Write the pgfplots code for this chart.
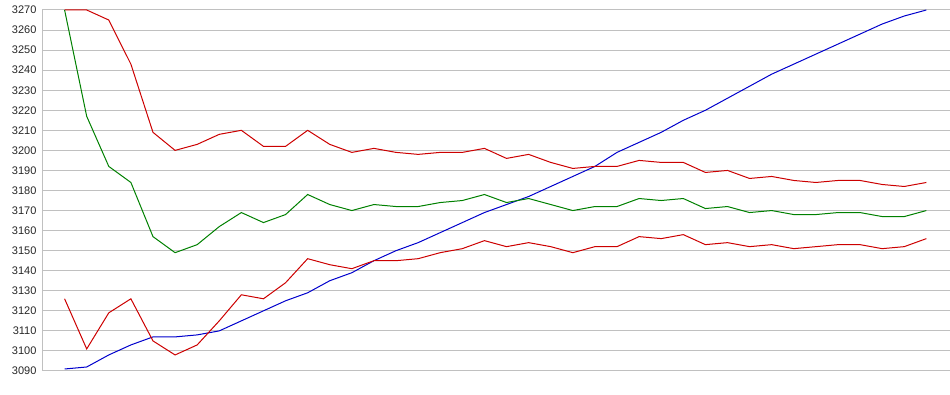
\documentclass[border=0pt]{standalone}
\usepackage{fontspec}
\setmainfont{Liberation Sans}
\usepackage{pgfplots}
\pgfplotsset{compat=1.18}
\definecolor{cred}{RGB}{204,0,0}
\definecolor{cgreen}{RGB}{0,128,0}
\definecolor{cblue}{RGB}{0,0,204}
\definecolor{cgrid}{RGB}{192,192,192}
\begin{document}
\begin{tikzpicture}
\useasboundingbox (0pt,0pt) rectangle (950pt,395pt);
\begin{axis}[
  at={(42.5pt,24pt)}, anchor=south west,
  scale only axis, width=907.5pt, height=361pt,
  xmin=-1, xmax=40.07, ymin=3090, ymax=3270,
  ytick distance=10,
  xtick=\empty,
  axis x line=none,
  axis y line*=left,
  y axis line style={-, draw=cgrid, line width=1pt},
  ymajorgrids, grid style={cgrid, line width=1pt},
  ytick style={draw=none},
  /pgf/number format/assume math mode=true,
  /pgf/number format/1000 sep={},
  yticklabel style={font=\fontsize{11}{13}\selectfont, xshift=-2.5pt, text=black!85},
  clip=false,
]
\addplot[cblue, line width=1pt] coordinates {
(0,3091)(1,3092)(2,3098)(3,3103)(4,3107)(5,3107)(6,3108)(7,3110)(8,3115)(9,3120)
(10,3125)(11,3129)(12,3135)(13,3139)(14,3145)(15,3150)(16,3154)(17,3159)(18,3164)(19,3169)
(20,3173)(21,3177)(22,3182)(23,3187)(24,3192)(25,3199)(26,3204)(27,3209)(28,3215)(29,3220)
(30,3226)(31,3232)(32,3238)(33,3243)(34,3248)(35,3253)(36,3258)(37,3263)(38,3267)(39,3270)};
\addplot[cred, line width=1pt] coordinates {
(0,3270)(1,3270)(2,3265)(3,3243)(4,3209)(5,3200)(6,3203)(7,3208)(8,3210)(9,3202)
(10,3202)(11,3210)(12,3203)(13,3199)(14,3201)(15,3199)(16,3198)(17,3199)(18,3199)(19,3201)
(20,3196)(21,3198)(22,3194)(23,3191)(24,3192)(25,3192)(26,3195)(27,3194)(28,3194)(29,3189)
(30,3190)(31,3186)(32,3187)(33,3185)(34,3184)(35,3185)(36,3185)(37,3183)(38,3182)(39,3184)};
\addplot[cgreen, line width=1pt] coordinates {
(0,3270)(1,3217)(2,3192)(3,3184)(4,3157)(5,3149)(6,3153)(7,3162)(8,3169)(9,3164)
(10,3168)(11,3178)(12,3173)(13,3170)(14,3173)(15,3172)(16,3172)(17,3174)(18,3175)(19,3178)
(20,3174)(21,3176)(22,3173)(23,3170)(24,3172)(25,3172)(26,3176)(27,3175)(28,3176)(29,3171)
(30,3172)(31,3169)(32,3170)(33,3168)(34,3168)(35,3169)(36,3169)(37,3167)(38,3167)(39,3170)};
\addplot[cred, line width=1pt] coordinates {
(0,3126)(1,3101)(2,3119)(3,3126)(4,3105)(5,3098)(6,3103)(7,3115)(8,3128)(9,3126)
(10,3134)(11,3146)(12,3143)(13,3141)(14,3145)(15,3145)(16,3146)(17,3149)(18,3151)(19,3155)
(20,3152)(21,3154)(22,3152)(23,3149)(24,3152)(25,3152)(26,3157)(27,3156)(28,3158)(29,3153)
(30,3154)(31,3152)(32,3153)(33,3151)(34,3152)(35,3153)(36,3153)(37,3151)(38,3152)(39,3156)};
\end{axis}
\end{tikzpicture}
\end{document}
